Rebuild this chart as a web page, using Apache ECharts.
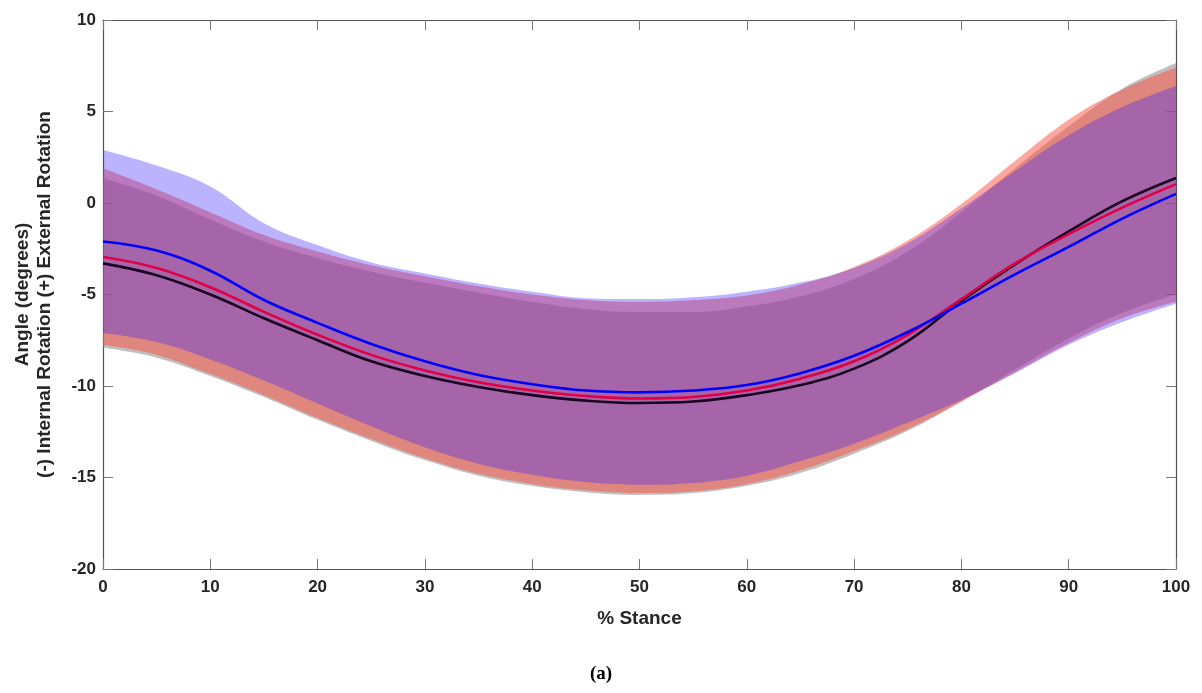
<!DOCTYPE html>
<html>
<head>
<meta charset="utf-8">
<script src="https://cdn.jsdelivr.net/npm/echarts@6/dist/echarts.min.js"></script>
<style>
  html, body { margin: 0; padding: 0; background: #fff; }
  #chart { width: 1202px; height: 693px; }
</style>
</head>
<body>
<div id="chart"></div>
<script>
// % stance samples
const stance = [0, 5, 10, 15, 20, 25, 30, 35, 40, 45, 50, 55, 60, 65, 70, 75, 80, 85, 90, 95, 100];

// mean curves
const blackMean = [-3.3, -3.95, -5.0, -6.3, -7.5, -8.65, -9.45, -10.05, -10.5, -10.8, -10.93, -10.85, -10.5, -9.95, -9.05, -7.55, -5.35, -3.35, -1.55, 0.1, 1.37];
const redMean = [-2.95, -3.55, -4.6, -5.95, -7.2, -8.3, -9.15, -9.8, -10.25, -10.55, -10.68, -10.6, -10.25, -9.6, -8.65, -7.2, -5.25, -3.3, -1.7, -0.25, 1.03];
const blueMean = [-2.1, -2.6, -3.7, -5.3, -6.55, -7.7, -8.65, -9.4, -9.9, -10.25, -10.35, -10.25, -9.95, -9.3, -8.35, -7.05, -5.5, -3.9, -2.4, -0.85, 0.5];

// band edges
const grayUpper = [1.35, 0.4, -0.9, -2.1, -3.0, -3.75, -4.35, -4.9, -5.4, -5.8, -5.95, -5.95, -5.65, -5.1, -4.15, -2.65, -0.5, 1.9, 4.2, 6.25, 7.65];
const grayLower = [-7.9, -8.45, -9.45, -10.6, -11.85, -13.0, -14.05, -14.9, -15.45, -15.8, -15.95, -15.85, -15.45, -14.75, -13.7, -12.45, -10.85, -9.1, -7.4, -6.0, -5.0];
const redUpper = [1.9, 0.75, -0.5, -1.75, -2.65, -3.4, -4.0, -4.55, -5.0, -5.3, -5.4, -5.3, -5.05, -4.45, -3.5, -2.05, -0.05, 2.3, 4.55, 6.2, 7.4];
const redLower = [-7.75, -8.3, -9.35, -10.5, -11.75, -12.9, -13.95, -14.8, -15.35, -15.7, -15.85, -15.75, -15.35, -14.6, -13.55, -12.35, -10.85, -9.25, -7.65, -6.3, -5.4];
const blueUpper = [2.9, 2.05, 0.9, -1.1, -2.3, -3.25, -3.85, -4.4, -4.85, -5.2, -5.25, -5.15, -4.85, -4.35, -3.55, -2.2, -0.3, 1.75, 3.7, 5.25, 6.4];
const blueLower = [-7.1, -7.6, -8.55, -9.7, -10.95, -12.2, -13.35, -14.25, -14.85, -15.25, -15.4, -15.3, -14.9, -14.1, -13.15, -12.0, -10.75, -9.3, -7.75, -6.5, -5.5];

// axis ticks
const yTicks = { min: -20, max: 10, interval: 5 };

const font = 'Arial, "Liberation Sans", sans-serif';
const textColor = '#262626';
const axisColor = '#555555';
const tickColor = '#777777';

function band(id, lower, upper, color, opacity) {
  const diff = upper.map((u, i) => +(u - lower[i]).toFixed(3));
  return [
    {
      type: 'line', stack: id, stackStrategy: 'all', smooth: 0.4,
      symbol: 'none', silent: true,
      lineStyle: { opacity: 0, width: 0 },
      data: lower
    },
    {
      type: 'line', stack: id, stackStrategy: 'all', smooth: 0.4,
      symbol: 'none', silent: true,
      lineStyle: { opacity: 0, width: 0 },
      areaStyle: { color: color, opacity: opacity },
      data: diff
    }
  ];
}

function meanLine(ys, color) {
  return {
    type: 'line', smooth: 0.4, symbol: 'none', silent: true,
    lineStyle: { color: color, width: 2.6 },
    data: ys
  };
}

const xLabels = stance.map(String);

const chart = echarts.init(document.getElementById('chart'));
chart.setOption({
  animation: false,
  backgroundColor: '#ffffff',
  title: {
    text: '(a)',
    left: 'center',
    top: 660,
    textStyle: { fontFamily: '"Liberation Serif", "DejaVu Serif", serif', fontSize: 19, fontWeight: 'bold', color: '#000' }
  },
  grid: { left: 103, right: 26, top: 20, bottom: 124 },
  xAxis: [
    {
      type: 'category', data: xLabels, boundaryGap: false,
      name: '% Stance', nameLocation: 'middle', nameGap: 40,
      nameTextStyle: { fontFamily: font, fontSize: 19, fontWeight: 'bold', color: textColor },
      axisLine: { show: true, onZero: false, lineStyle: { color: axisColor, width: 1.2 } },
      axisTick: { show: true, inside: true, length: 10, interval: 1, lineStyle: { color: tickColor } },
      axisLabel: { interval: 1, fontFamily: font, fontSize: 17, fontWeight: 'bold', color: textColor, margin: 10 },
      splitLine: { show: false }
    },
    {
      type: 'category', data: xLabels, boundaryGap: false, position: 'top',
      axisLine: { show: true, onZero: false, lineStyle: { color: axisColor, width: 1.2 } },
      axisTick: { show: true, inside: true, length: 10, interval: 1, lineStyle: { color: tickColor } },
      axisLabel: { show: false },
      splitLine: { show: false }
    }
  ],
  yAxis: [
    {
      type: 'value', min: yTicks.min, max: yTicks.max, interval: yTicks.interval,
      name: 'Angle (degrees)\n(-) Internal Rotation (+) External Rotation',
      nameLocation: 'middle', nameRotate: 90, nameGap: 47,
      nameTextStyle: { fontFamily: font, fontSize: 19, fontWeight: 'bold', color: textColor, lineHeight: 22 },
      axisLine: { show: true, onZero: false, lineStyle: { color: axisColor, width: 1.2 } },
      axisTick: { show: true, inside: true, length: 10, lineStyle: { color: tickColor } },
      axisLabel: { fontFamily: font, fontSize: 17, fontWeight: 'bold', color: textColor, margin: 7 },
      splitLine: { show: false }
    },
    {
      type: 'value', position: 'right', min: yTicks.min, max: yTicks.max, interval: yTicks.interval,
      axisLine: { show: true, onZero: false, lineStyle: { color: axisColor, width: 1.2 } },
      axisTick: { show: true, inside: true, length: 10, lineStyle: { color: tickColor } },
      axisLabel: { show: false },
      splitLine: { show: false }
    }
  ],
  series: [
    ...band('gray', grayLower, grayUpper, '#808080', 0.5),
    ...band('red', redLower, redUpper, 'rgb(255,78,62)', 0.5),
    ...band('blue', blueLower, blueUpper, 'rgb(60,40,250)', 0.35),
    meanLine(blackMean, '#1a0020'),
    meanLine(redMean, '#e00048'),
    meanLine(blueMean, '#0000ff')
  ]
});
</script>
</body>
</html>
